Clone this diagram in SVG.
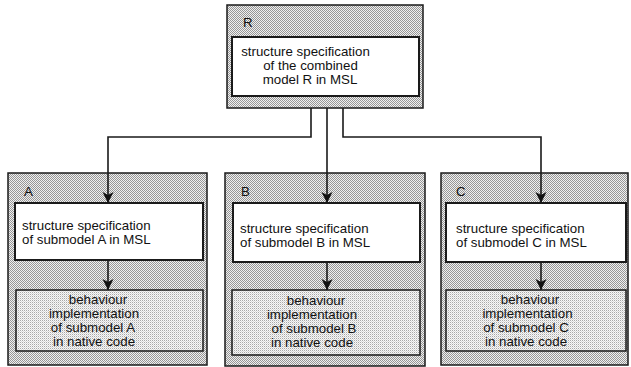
<svg xmlns="http://www.w3.org/2000/svg" width="631" height="367" viewBox="0 0 631 367">
  <style>
    .frame { fill: url(#dots); stroke: #1a1a1a; stroke-width: 1.5; }
    .spec { fill: #ffffff; stroke: #1a1a1a; stroke-width: 2; }
    .impl { fill: url(#dotsLight); stroke: #1a1a1a; stroke-width: 1.5; }
    text { font-family: "Liberation Sans", Arial, sans-serif; font-size: 13.3px; fill: #111; }
    .mid { text-anchor: middle; }
    .link { fill: none; stroke: #1a1a1a; stroke-width: 1.6; }
  </style>
  <defs>
    <pattern id="dots" patternUnits="userSpaceOnUse" x="0" y="0" width="2" height="2">
      <rect width="2" height="2" fill="#f0f0f0"/>
      <rect x="0" y="0" width="1" height="1" fill="#969696"/>
      <rect x="1" y="1" width="1" height="1" fill="#969696"/>
    </pattern>
    <pattern id="dotsLight" patternUnits="userSpaceOnUse" x="0" y="0" width="2" height="2">
      <rect width="2" height="2" fill="#f8f8f8"/>
      <rect x="0" y="0" width="1" height="1" fill="#a8a8a8"/>
      <rect x="1" y="1" width="1" height="1" fill="#d8d8d8"/>
    </pattern>
    <marker id="head" markerUnits="userSpaceOnUse" markerWidth="12" markerHeight="12" viewBox="0 0 12 12" refX="11" refY="6" orient="auto">
      <path d="M0,0.5 L11,6 L0,11.5 L3,6 z" fill="#111"/>
    </marker>
  </defs>

  <!-- combined model R -->
  <g id="node-R">
    <rect class="frame" x="227" y="5" width="196" height="103"/>
    <text x="243" y="27">R</text>
    <rect class="spec" x="232" y="37" width="187" height="59"/>
    <text class="mid" x="305.5" y="56">structure specification</text>
    <text class="mid" x="310.5" y="70">of the combined</text>
    <text class="mid" x="310" y="84">model R in MSL</text>
  </g>

  <!-- submodel A -->
  <g id="node-A">
    <rect class="frame" x="8" y="173" width="199" height="192"/>
    <text x="24" y="196">A</text>
    <rect class="spec" x="15" y="203" width="188" height="57"/>
    <text x="22" y="230">structure specification</text>
    <text x="22" y="244">of submodel A in MSL</text>
    <rect class="impl" x="16" y="290" width="187" height="61"/>
    <text class="mid" x="98" y="304">behaviour</text>
    <text class="mid" x="94" y="318">implementation</text>
    <text class="mid" x="93" y="332">of submodel A</text>
    <text class="mid" x="94" y="346">in native code</text>
  </g>

  <!-- submodel B -->
  <g id="node-B">
    <rect class="frame" x="225" y="173" width="200" height="193"/>
    <text x="241" y="196">B</text>
    <rect class="spec" x="233" y="203" width="187" height="59"/>
    <text x="240" y="233">structure specification</text>
    <text x="240" y="247">of submodel B in MSL</text>
    <rect class="impl" x="232" y="290" width="188" height="65"/>
    <text class="mid" x="316" y="305">behaviour</text>
    <text class="mid" x="312" y="319">implementation</text>
    <text class="mid" x="314" y="333">of submodel B</text>
    <text class="mid" x="312" y="347">in native code</text>
  </g>

  <!-- submodel C -->
  <g id="node-C">
    <rect class="frame" x="441" y="173" width="187" height="192"/>
    <text x="456" y="196">C</text>
    <rect class="spec" x="446" y="203" width="180" height="59"/>
    <text x="456" y="233">structure specification</text>
    <text x="456" y="247">of submodel C in MSL</text>
    <rect class="impl" x="446" y="290" width="180" height="61"/>
    <text class="mid" x="530" y="304">behaviour</text>
    <text class="mid" x="527.5" y="318">implementation</text>
    <text class="mid" x="526" y="332">of submodel C</text>
    <text class="mid" x="526" y="346">in native code</text>
  </g>

  <!-- connectors -->
  <g id="connectors">
    <path class="link" d="M311,108 V137 H108 V203" marker-end="url(#head)"/>
    <path class="link" d="M327,108 V203" marker-end="url(#head)"/>
    <path class="link" d="M343,108 V137 H541 V203" marker-end="url(#head)"/>
    <path class="link" d="M108,260 V290" marker-end="url(#head)"/>
    <path class="link" d="M327,262 V290" marker-end="url(#head)"/>
    <path class="link" d="M541,262 V290" marker-end="url(#head)"/>
  </g>
</svg>
